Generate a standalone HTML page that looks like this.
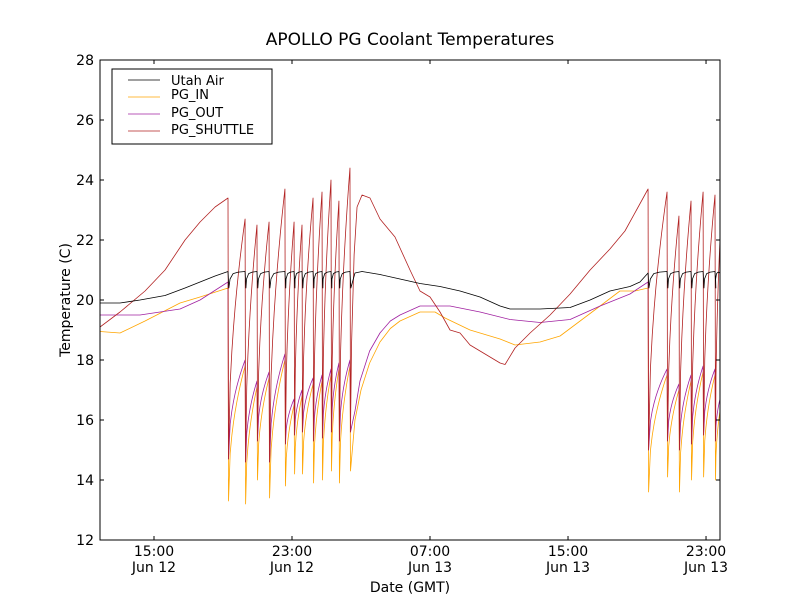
<!DOCTYPE html>
<html><head><meta charset="utf-8"><style>
body{margin:0;background:#fff}
svg{font-family:"DejaVu Sans","Liberation Sans",sans-serif}
</style></head><body>
<svg id="chart" width="800" height="600" xmlns="http://www.w3.org/2000/svg">
<rect x="0" y="0" width="800" height="600" fill="#fff"/>
<defs><clipPath id="clip"><rect x="100" y="60" width="620" height="480"/></clipPath></defs>
<text x="410" y="45" text-anchor="middle" font-size="17">APOLLO PG Coolant Temperatures</text>
<text x="70" y="300" text-anchor="middle" font-size="14" transform="rotate(-90 70 300)">Temperature (C)</text>
<text x="410" y="592" text-anchor="middle" font-size="14">Date (GMT)</text>
<g id="series" clip-path="url(#clip)"></g>
<g id="axes"></g>
<rect x="100" y="60" width="620" height="480" fill="none" stroke="#000" stroke-width="1"/>
<g>
<rect x="112" y="69" width="160" height="75" fill="#fff" stroke="#000" stroke-width="1"/>
<line x1="128" y1="80" x2="160" y2="80" stroke="#000" stroke-width="0.7"/>
<text x="171" y="85" font-size="13">Utah Air</text>
<line x1="128" y1="97" x2="160" y2="97" stroke="#ffa500" stroke-width="0.7"/>
<text x="171" y="99" font-size="13">PG_IN</text>
<line x1="128" y1="114" x2="160" y2="114" stroke="#a020a0" stroke-width="0.7"/>
<text x="171" y="117" font-size="13">PG_OUT</text>
<line x1="128" y1="131" x2="160" y2="131" stroke="#b22222" stroke-width="0.7"/>
<text x="171" y="134" font-size="13">PG_SHUTTLE</text>
</g>
</svg>
<script>
// time in hours since 00:00 Jun 12
const tMin = 11.87, tMax = 47.81;
const yTicks = [12,14,16,18,20,22,24,26,28];
const xTickHours = [15,23,31,39,47];
const xTickLabels = [["15:00","Jun 12"],["23:00","Jun 12"],["07:00","Jun 13"],["15:00","Jun 13"],["23:00","Jun 13"]];

// smooth segments [hour, value]
const airPre = [[11.87,19.9],[13.03,19.9],[14.19,20.0],[15.64,20.15],[16.8,20.4],[17.67,20.6],[18.54,20.8],[19.29,20.95]];
const airPost = [[26.65,20.9],[27.06,20.95],[28.1,20.85],[29.26,20.7],[30.42,20.55],[31.58,20.45],[32.74,20.3],[33.9,20.1],[35.06,19.8],[35.64,19.7],[37.38,19.7],[39.12,19.75],[40.28,20.0],[41.43,20.3],[42.59,20.45],[43.17,20.6],[43.64,20.9]];
const inPreSeg = [[11.87,18.95],[13.03,18.9],[14.48,19.3],[16.51,19.9],[17.67,20.1],[19.29,20.4]];
const inPost = [[26.65,16.0],[27.0,17.0],[27.5,17.9],[28.1,18.6],[28.7,19.05],[29.26,19.3],[30.42,19.6],[31.29,19.6],[31.87,19.4],[33.32,19.0],[35.06,18.7],[35.93,18.5],[37.38,18.6],[38.54,18.8],[39.7,19.3],[40.86,19.8],[42.01,20.3],[42.88,20.3],[43.64,20.4]];
const outPreSeg = [[11.87,19.5],[14.19,19.5],[16.51,19.7],[17.67,20.0],[19.29,20.6]];
const outPost = [[26.65,16.3],[26.94,17.3],[27.5,18.3],[28.1,18.9],[28.7,19.3],[29.26,19.5],[30.42,19.8],[32.16,19.8],[33.9,19.6],[35.64,19.35],[37.38,19.25],[39.12,19.35],[40.86,19.8],[42.59,20.2],[43.64,20.6]];
const shPreSeg = [[11.87,19.1],[13.03,19.6],[14.48,20.3],[15.64,21.0],[16.8,22.0],[17.67,22.6],[18.54,23.1],[19.29,23.4]];
const shPost = [[26.45,18.5],[26.6,21.5],[26.77,23.1],[27.06,23.5],[27.52,23.4],[28.1,22.7],[28.97,22.1],[29.84,21.0],[30.42,20.3],[31.0,20.1],[31.58,19.6],[32.16,19.0],[32.74,18.9],[33.32,18.5],[34.48,18.1],[35.06,17.9],[35.35,17.85],[35.93,18.4],[36.8,18.9],[37.96,19.5],[39.12,20.2],[40.28,21.0],[41.43,21.7],[42.3,22.3],[43.64,23.7]];

// burst cycles
const leftDrops = [19.29,20.28,20.97,21.67,22.59,23.12,23.58,24.22,24.74,25.26,25.72,26.36];
const leftPeaks = [23.4,22.7,22.5,22.6,23.7,22.6,22.5,23.4,23.6,24.0,23.3,24.4];
const leftInLow = [13.3,13.2,14.0,13.4,13.8,14.2,14.2,13.9,14.0,14.3,13.9,14.3];
const leftInPre = [20.4,17.8,17.1,17.4,18.0,16.5,16.8,17.2,17.3,17.5,17.7,17.8];
const leftOutLow = [14.7,14.6,15.3,14.6,15.2,15.5,15.6,15.3,15.4,15.6,15.3,15.6];
const leftOutPre = [20.6,18.0,17.3,17.6,18.2,16.7,17.0,17.4,17.5,17.7,17.9,18.0];
const rightDrops = [43.64,44.74,45.43,46.13,46.83,47.52];
const rightPeaks = [23.7,23.6,22.8,23.3,23.6,23.5];
const rightInLow = [13.6,14.1,13.6,14.0,14.1,14.0];
const rightInPre = [20.4,17.5,17.0,17.3,17.6,17.5];
const rightOutLow = [15.0,15.3,15.0,15.2,15.5,15.3];
const rightOutPre = [20.6,17.7,17.2,17.5,17.8,17.7];
const endValues = {air:20.9, in:16.3, out:16.7, sh:22.0};

const X = t => 100 + (t - tMin) / (tMax - tMin) * 620;
const Y = v => 540 - (v - 12) / 16 * 480;
const NS = "http://www.w3.org/2000/svg";

function cycles(drops, pre, low, endVal, kind){
  const pts = [];
  for(let i=0;i<drops.length;i++){
    const t = drops[i];
    pts.push([t, pre[i]]);
    pts.push([t+0.03, low[i]]);
    let tn, vn;
    if(i < drops.length-1){ tn = drops[i+1]; vn = pre[i+1]; }
    else if(endVal !== null){ tn = tMax; vn = endVal; }
    else break;
    const n = 10;
    for(let k=1;k<=n;k++){
      const f = k/n;
      const g = kind==='sh' ? Math.pow(f,0.5) : Math.pow(f,0.45);
      pts.push([t+0.03+(tn-t-0.03)*f, low[i]+(vn-low[i])*g]);
    }
  }
  return pts;
}
function airCycles(drops, endT){
  const pts=[];
  for(let i=0;i<drops.length;i++){
    const t=drops[i], tn = i<drops.length-1 ? drops[i+1] : endT;
    if(tn===null) { pts.push([t,20.95],[t+0.05,20.4]); break; }
    const d=tn-t;
    pts.push([t,20.95],[t+0.05,20.4],[t+0.12*d,20.7],[t+0.3*d,20.88],[t+0.6*d,20.93]);
  }
  return pts;
}

const seriesDefs = [
  {name:'pg-in', color:'#ffa500', pts: [...inPreSeg, ...cycles(leftDrops,leftInPre,leftInLow,null,'in').slice(1), ...inPost, ...cycles(rightDrops,rightInPre,rightInLow,endValues.in,'in').slice(1)]},
  {name:'pg-out', color:'#a020a0', pts: [...outPreSeg, ...cycles(leftDrops,leftOutPre,leftOutLow,null,'out').slice(1), ...outPost, ...cycles(rightDrops,rightOutPre,rightOutLow,endValues.out,'out').slice(1)]},
  {name:'pg-shuttle', color:'#b22222', pts: [...shPreSeg, ...cycles(leftDrops,leftPeaks,leftOutLow,null,'sh').slice(1), ...shPost, ...cycles(rightDrops,rightPeaks,rightOutLow,endValues.sh,'sh').slice(1)]},
  {name:'utah-air', color:'#000', pts: [...airPre, ...airCycles(leftDrops,null).slice(1), ...airPost, ...airCycles(rightDrops,tMax).slice(1), [tMax,endValues.air]]}
];
const sg = document.getElementById('series');
seriesDefs.forEach(s=>{
  const p=document.createElementNS(NS,'path');
  p.setAttribute('d', s.pts.map((q,i)=>(i?'L':'M')+X(q[0]).toFixed(2)+' '+Y(q[1]).toFixed(2)).join(''));
  p.setAttribute('fill','none');
  p.setAttribute('stroke',s.color);
  p.setAttribute('stroke-width','0.8');
  p.setAttribute('stroke-linejoin','round');
  
  
  sg.appendChild(p);
});
const ax=document.getElementById('axes');
yTicks.forEach(v=>{
  const y=Y(v);
  [[100,104],[720,716]].forEach(([a,b])=>{
    const l=document.createElementNS(NS,'line');
    l.setAttribute('x1',a);l.setAttribute('x2',b);l.setAttribute('y1',y);l.setAttribute('y2',y);
    l.setAttribute('stroke','#000');
    
    
    ax.appendChild(l);
  });
  const t=document.createElementNS(NS,'text');
  t.setAttribute('x',94);t.setAttribute('y',y+5);t.setAttribute('text-anchor','end');t.setAttribute('font-size','14');
  t.textContent=v;
  
  
  ax.appendChild(t);
});
xTickHours.forEach((h,i)=>{
  const x=X(h);
  [[540,536],[60,64]].forEach(([a,b])=>{
    const l=document.createElementNS(NS,'line');
    l.setAttribute('x1',x);l.setAttribute('x2',x);l.setAttribute('y1',a);l.setAttribute('y2',b);
    l.setAttribute('stroke','#000');
    
    
    ax.appendChild(l);
  });
  xTickLabels[i].forEach((s,j)=>{
    const t=document.createElementNS(NS,'text');
    t.setAttribute('x',x);t.setAttribute('y',556+j*16);t.setAttribute('text-anchor','middle');t.setAttribute('font-size','14');
    t.textContent=s;
    
    
    ax.appendChild(t);
  });
});
</script>
</body></html>
